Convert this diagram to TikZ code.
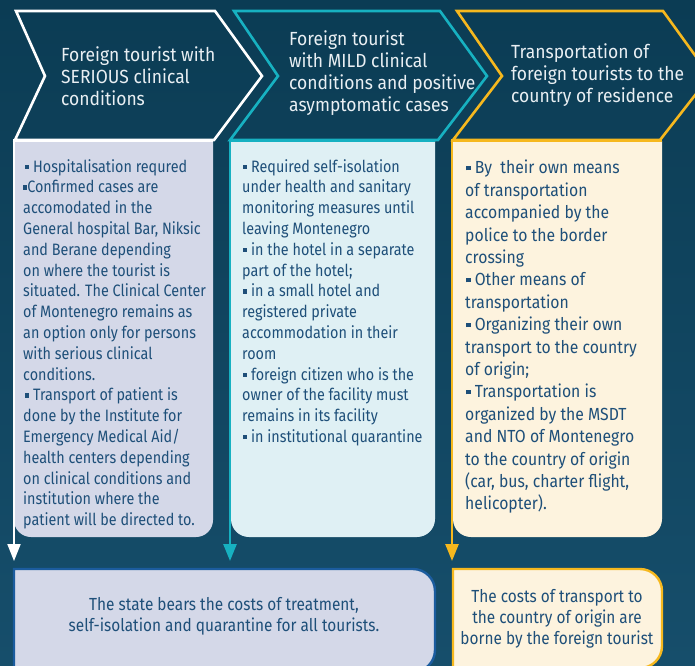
\documentclass[tikz,border=0pt]{standalone}
\usepackage{fontspec}
\setmainfont{Fira Sans}
\newfontfamily\headfont[FakeStretch=0.92]{Fira Sans}
\newfontfamily\bodyfont[FakeStretch=0.87]{Fira Sans}
\newfontfamily\widefont[FakeStretch=0.90]{Fira Sans}
\newfontfamily\costfont[FakeStretch=0.88]{Fira Sans}
\usetikzlibrary{arrows.meta}

\definecolor{bgtop}{HTML}{0B3C54}
\definecolor{bgbot}{HTML}{164E6B}
\definecolor{tealc}{HTML}{17B1C1}
\definecolor{goldc}{HTML}{F6B81E}
\definecolor{bluec}{HTML}{1B5C9E}
\definecolor{lavfill}{HTML}{D4D8E8}
\definecolor{cyanfill}{HTML}{DFF0F4}
\definecolor{creamfill}{HTML}{FDF3DE}
\definecolor{inkc}{HTML}{1E4F79}
\definecolor{headink}{HTML}{E9EFF3}

% small square bullet
\newcommand\sqb{\rule[0.2em]{0.25em}{0.25em}}

\tikzset{
  chev/.style={line width=2.6pt, line join=miter},
  headtxt/.style={anchor=north west, inner sep=0pt, align=left, text=headink,
    font=\headfont\fontsize{19}{22.2}\selectfont},
  bodytxt/.style={anchor=north west, inner sep=0pt, align=left, text=inkc,
    font=\bodyfont\fontsize{16.5}{20.8}\selectfont},
  costtxt/.style={anchor=north, inner sep=0pt, align=center, text=inkc,
    font=\costfont\fontsize{17.5}{21.3}\selectfont},
  flow/.style={line width=2pt, -{Triangle[length=17pt,width=13pt]}},
}

\begin{document}
\begin{tikzpicture}[x=1pt,y=-1pt]
  % backdrop
  \fill[top color=bgtop, bottom color=bgbot] (0,0) rectangle (695,665);
  \useasboundingbox (0,0) rectangle (695,665);

  % header chevrons
  \draw[chev, white] (16,11) -- (215,11) -- (262,76) -- (214,140) -- (15,140) -- (45,76) -- cycle;
  \draw[chev, tealc] (234,11) -- (440,11) -- (487,76) -- (438,140) -- (230,140) -- (278,76) -- cycle;
  \draw[chev, goldc] (457,11) -- (663,11) -- (710,76) -- (660,140) -- (453,140) -- (502,76) -- cycle;

  % detail panels
  \fill[lavfill] (14,141) -- (213,141) [rounded corners=17pt] -- (213,537) -- (14,537) [sharp corners] -- cycle;
  \draw[white, line width=0.8pt] (14,141) -- (213,141);
  \fill[cyanfill] (231,141) -- (435,141) [rounded corners=18pt] -- (435,537) -- (231,537) [sharp corners] -- cycle;
  \draw[tealc, line width=1.6pt] (230,141) -- (435,141);
  \fill[creamfill] (453,141) -- (662,141) [rounded corners=18pt] -- (662,537) -- (453,537) [sharp corners] -- cycle;
  \draw[goldc, line width=1.6pt] (452,141) -- (662,141);

  % cost panels
  \draw[bluec, line width=2.4pt, fill=lavfill]
    (14,569) [rounded corners=22pt] -- (435,569) -- (435,672) [sharp corners] -- (14,672) -- cycle;
  \draw[goldc, line width=2.4pt, fill=creamfill]
    (453,569) [rounded corners=22pt] -- (662,569) -- (662,668) [sharp corners] -- (453,668) -- cycle;

  % connector end points
  \coordinate (s1) at (14,139);
  \coordinate (e1) at (14,561);
  \coordinate (s2) at (230,139);
  \coordinate (e2) at (230,561);
  \coordinate (s3) at (452,139);
  \coordinate (e3) at (452,561);
  \draw[flow, white] (s1) -- (e1);
  \draw[flow, tealc, line width=2.6pt] (s2) -- (e2);
  \draw[flow, goldc, line width=2.6pt] (s3) -- (e3);

  % header texts
  \node[headtxt] (h1) at (61,46) {Foreign tourist with\\SERIOUS clinical\\conditions};
  \node[headtxt] (h2) at (289,30) {Foreign tourist\\with MILD clinical\\conditions and positive\\asymptomatic cases};
  \node[headtxt] (h3) at (511,43) {Transportation of\\foreign tourists to the\\country of residence};

  % panel texts
  \node[bodytxt] (b1) at (23,159) {\hspace{2pt}\sqb{} Hospitalisation requred\\
    \sqb Confirmed cases are\\
    accomodated in the\\
    General hospital Bar, Niksic\\
    and Berane depending\\
    on where the tourist is\\
    situated. The Clinical Center\\
    of Montenegro remains as\\
    an option only for persons\\
    with serious clinical\\
    conditions.\\
    \hspace{2pt}\sqb{} Transport of patient is\\
    done by the Institute for\\
    Emergency Medical Aid/\\
    health centers depending\\
    on clinical conditions and\\
    institution where the\\
    patient will be directed to.};

  \node[bodytxt] (b2) at (242,159) {\hspace{1pt}\sqb{} Required self-isolation\\
    under health and sanitary\\
    monitoring measures until\\
    leaving Montenegro\\
    \hspace{1pt}\sqb{} in the hotel in a separate\\
    part of the hotel;\\
    \hspace{1pt}\sqb{} in a small hotel and\\
    registered private\\
    accommodation in their\\
    room\\
    \hspace{1pt}\sqb{} foreign citizen who is the\\
    owner of the facility must\\
    remains in its facility\\
    \hspace{1pt}\sqb{} in institutional quarantine};

  \node[bodytxt, font=\widefont\fontsize{17.5}{22.4}\selectfont] (b3) at (465,160) {\hspace{1pt}\sqb{} By\ \ their own means\\
    of transportation\\
    accompanied by the\\
    police to the border\\
    crossing\\
    \hspace{1pt}\sqb{} Other means of\\
    transportation\\
    \hspace{1pt}\sqb{} Organizing their own\\
    transport to the country\\
    of origin;\\
    \hspace{1pt}\sqb{} Transportation is\\
    organized by the MSDT\\
    and NTO of Montenegro\\
    to the country of origin\\
    (car, bus, charter flight,\\
    helicopter).};

  % cost texts
  \node[costtxt] (c1) at (224,597) {The state bears the costs of treatment,\\self-isolation and quarantine for all tourists.};
  \node[costtxt] (c2) at (557,589) {The costs of transport to\\the country of origin are\\borne by the foreign tourist};
\end{tikzpicture}
\end{document}
